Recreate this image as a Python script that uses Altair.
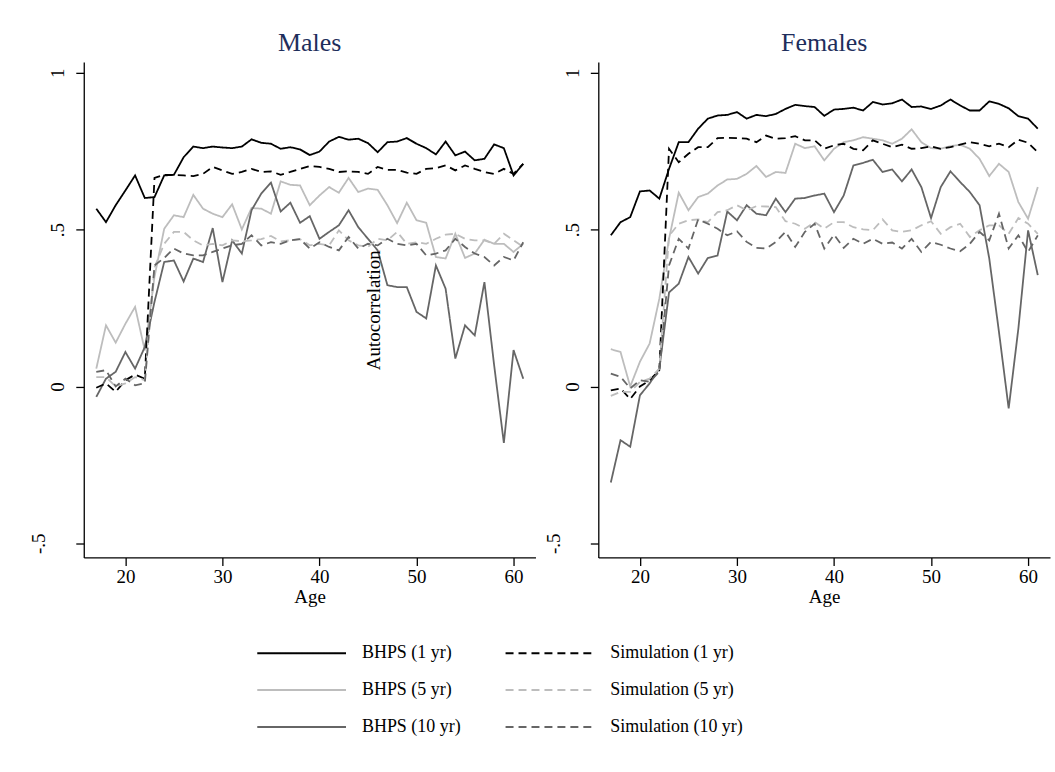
import altair as alt
import pandas as pd

ages = list(range(17, 62))

series_names = ["BHPS (1 yr)", "BHPS (5 yr)", "BHPS (10 yr)",
                "Simulation (1 yr)", "Simulation (5 yr)", "Simulation (10 yr)"]

m_bhps1 = [.567, .524, .578, .625, .673, .601, .604, .673, .675, .731, .765, .760, .765, .762, .760,
           .765, .788, .777, .774, .758, .763, .756, .738, .749, .781, .796, .787, .790, .776, .747,
           .779, .781, .792, .774, .760, .740, .781, .737, .749, .721, .726, .772, .760, .673, .710]
m_bhps5 = [.057, .195, .140, .200, .254, .115, .350, .503, .546, .540, .611, .567, .551, .540, .581,
           .501, .569, .567, .551, .654, .643, .641, .578, .609, .636, .618, .665, .620, .631, .627,
           .578, .521, .586, .530, .522, .413, .408, .487, .410, .424, .468, .455, .455, .429, .455]
m_bhps10 = [-.033, .025, .047, .110, .057, .126, .270, .397, .402, .335, .408, .397, .505, .333, .466,
            .424, .562, .615, .650, .558, .586, .522, .543, .471, .493, .514, .562, .508, .471, .434,
            .323, .317, .317, .238, .217, .386, .312, .089, .195, .163, .333, .068, -.180, .116, .025]
m_sim1 = [-.004, .010, -.017, .020, .038, .025, .665, .675, .675, .673, .671, .678, .700, .689, .678,
          .684, .694, .684, .686, .675, .684, .694, .703, .700, .694, .684, .686, .684, .678, .700,
          .691, .691, .682, .678, .694, .696, .705, .689, .705, .694, .684, .678, .694, .678, .710]
m_sim5 = [.030, .030, .000, .010, .030, .020, .380, .455, .493, .493, .466, .450, .455, .450, .466,
          .463, .466, .470, .480, .463, .466, .470, .450, .455, .450, .498, .466, .450, .445, .471,
          .466, .493, .455, .460, .455, .471, .484, .487, .471, .466, .466, .455, .487, .466, .445]
m_sim10 = [.047, .052, .000, .025, .004, .010, .386, .410, .440, .424, .418, .418, .429, .440, .450,
           .455, .482, .450, .460, .455, .466, .470, .440, .460, .445, .434, .477, .440, .455, .450,
           .471, .455, .450, .455, .418, .424, .434, .471, .445, .424, .413, .386, .413, .402, .460]

f_bhps1 = [.482, .524, .540, .622, .625, .599, .694, .779, .779, .822, .854, .864, .866, .875, .854,
           .866, .862, .869, .885, .898, .894, .891, .863, .883, .885, .889, .880, .907, .899, .903,
           .915, .891, .893, .885, .896, .915, .896, .880, .880, .909, .901, .887, .862, .854, .822]
f_bhps5 = [.119, .110, .000, .079, .137, .280, .471, .618, .562, .604, .615, .641, .660, .662, .678,
           .703, .668, .684, .681, .774, .760, .766, .721, .758, .779, .785, .795, .790, .785, .774,
           .790, .820, .779, .760, .758, .766, .771, .758, .726, .671, .710, .684, .588, .535, .636]
f_bhps10 = [-.306, -.171, -.192, -.028, .010, .057, .300, .328, .413, .360, .410, .418, .558, .530, .578,
            .551, .546, .599, .556, .599, .601, .609, .615, .556, .609, .705, .713, .723, .684, .692,
            .654, .692, .636, .537, .636, .686, .652, .620, .578, .408, .174, -.070, .185, .498, .355]
f_sim1 = [-.012, -.006, -.040, .000, .020, .052, .758, .715, .742, .763, .763, .792, .793, .792, .790,
          .779, .800, .790, .792, .798, .785, .785, .758, .769, .774, .758, .753, .785, .774, .763,
          .771, .758, .760, .766, .758, .763, .771, .779, .774, .766, .774, .763, .787, .777, .747]
f_sim5 = [-.030, -.017, -.017, .015, .025, .057, .480, .519, .530, .533, .524, .556, .562, .578, .562,
          .575, .574, .572, .527, .519, .503, .524, .503, .524, .524, .508, .501, .498, .533, .498,
          .493, .498, .514, .527, .487, .508, .519, .477, .498, .514, .514, .487, .537, .519, .487]
f_sim10 = [.041, .031, -.006, .020, .015, .047, .386, .471, .440, .533, .519, .503, .482, .495, .461,
           .442, .440, .461, .493, .445, .493, .519, .440, .484, .442, .471, .455, .471, .455, .459,
           .440, .471, .429, .461, .452, .440, .431, .455, .493, .466, .551, .440, .482, .429, .482]

panels = {
    "Males": [m_bhps1, m_bhps5, m_bhps10, m_sim1, m_sim5, m_sim10],
    "Females": [f_bhps1, f_bhps5, f_bhps10, f_sim1, f_sim5, f_sim10],
}

rows = []
for sex, lists in panels.items():
    for k, (name, vals) in enumerate(zip(series_names, lists)):
        for a, v in zip(ages, vals):
            rows.append({"sex": sex, "series": name, "order": k, "age": a, "value": v})
df = pd.DataFrame(rows)

colors = ["#000000", "#bdbdbd", "#666666", "#000000", "#bdbdbd", "#666666"]
dashes = [[1, 0], [1, 0], [1, 0], [8, 5], [8, 5], [8, 5]]

FONT = "Liberation Serif"

legend = alt.Legend(
    orient="none", legendX=173, legendY=584, columns=2, direction="vertical", title=None,
    symbolType="stroke", symbolSize=7921, symbolStrokeWidth=2,
    labelFont=FONT, labelFontSize=18, labelColor="black", labelOffset=15,
    clipHeight=18, rowPadding=19, columnPadding=43, padding=0,
)

x_scale = alt.Scale(domain=[15.71, 62.26], nice=False, zero=False)
y_scale = alt.Scale(domain=[-0.545, 1.035], nice=False, zero=False)

y_label_expr = ("datum.value == 1 ? '1' : datum.value == 0 ? '0' : "
                "datum.value == 0.5 ? '.5' : '-.5'")


def panel(sex):
    base = alt.Chart(df[df["sex"] == sex])
    lines = base.mark_line(strokeWidth=1.8).encode(
        x=alt.X("age:Q", scale=x_scale,
                axis=alt.Axis(title="Age", values=[20, 30, 40, 50, 60], grid=False,
                              labelFont=FONT, labelFontSize=19, titleFont=FONT,
                              titleFontSize=19, titleFontWeight="normal",
                              labelColor="black", titleColor="black",
                              tickSize=8, labelPadding=2, titlePadding=1,
                              domainColor="black", tickColor="black",
                              domainWidth=1.3, tickWidth=1.3)),
        y=alt.Y("value:Q", scale=y_scale,
                axis=alt.Axis(title=None, values=[-0.5, 0, 0.5, 1], grid=False,
                              labelExpr=y_label_expr, labelAngle=270,
                              labelFont=FONT, labelFontSize=19, labelColor="black",
                              tickSize=8,
                              labelPadding={"condition": {"test": "datum.value < 0",
                                                          "value": 27},
                                            "value": 8},
                              domainColor="black", tickColor="black",
                              domainWidth=1.3, tickWidth=1.3)),
        color=alt.Color("series:N", scale=alt.Scale(domain=series_names, range=colors),
                        legend=legend),
        strokeDash=alt.StrokeDash("series:N",
                                  scale=alt.Scale(domain=series_names, range=dashes),
                                  legend=legend),
        detail="order:O",
    )
    layers = [lines]
    if sex == "Males":
        lab = alt.Chart(pd.DataFrame({"t": ["Autocorrelation"]})).mark_text(
            font=FONT, fontSize=19, angle=270, align="center", baseline="middle",
            color="black"
        ).encode(text="t:N", x=alt.value(290.7), y=alt.value(249))
        layers.append(lab)
    return alt.layer(*layers).properties(
        width=453, height=497,
        title=alt.TitleParams(sex, font=FONT, fontSize=26, fontWeight="normal",
                              color="#1e2e5c", anchor="middle", offset=6),
    )


chart = alt.hconcat(panel("Males"), panel("Females"), spacing=8).properties(
    padding={"left": 29, "top": 29, "right": 5, "bottom": 5},
    background="white",
).configure_view(stroke=None).configure_concat(spacing=8)

chart.save("out.html", embed_options={"renderer": "svg", "actions": False})
